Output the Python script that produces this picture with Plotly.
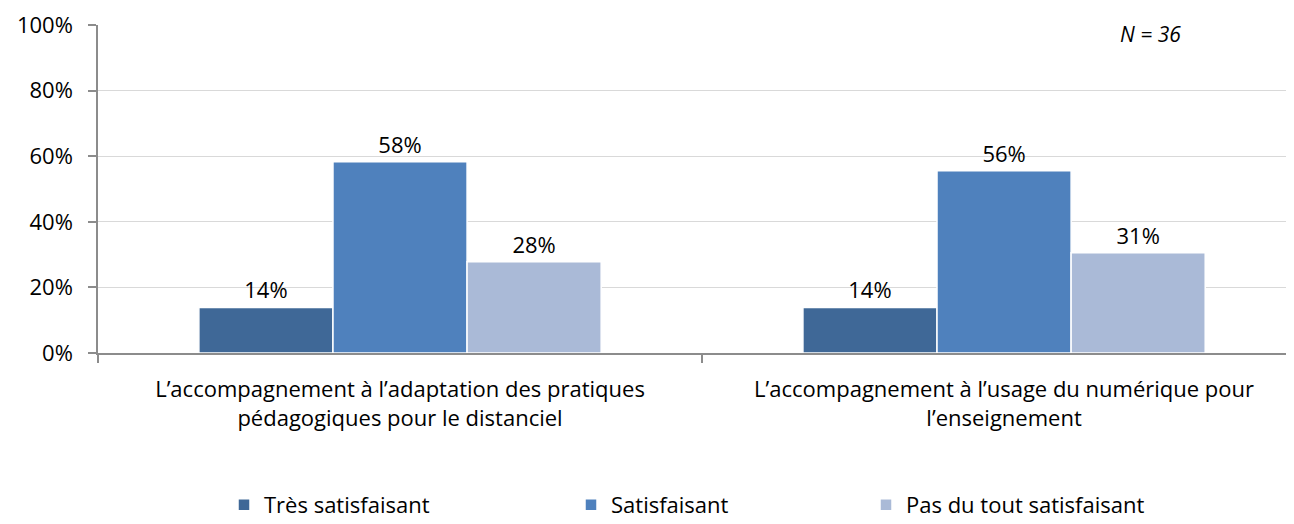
import plotly.graph_objects as go

categories = ["L’accompagnement à l’adaptation des pratiques<br>pédagogiques pour le distanciel",
              "L’accompagnement à l’usage du numérique pour<br>l’enseignement"]
series_names = ["Très satisfaisant", "Satisfaisant", "Pas du tout satisfaisant"]
values = [
    [0.139, 0.139],
    [0.583, 0.556],
    [0.278, 0.306],
]
labels = [["14%", "14%"], ["58%", "56%"], ["28%", "31%"]]
colors = ["#3F6897", "#4F81BD", "#AABAD7"]
yticks = [0, 0.2, 0.4, 0.6, 0.8, 1.0]
ytick_text = ["0%", "20%", "40%", "60%", "80%", "100%"]

FONT = "Open Sans"
FS = 22
PLOT_L, PLOT_W = 98, 1196
legend_ids = ["legend", "legend2", "legend3"]
legend_px = [224, 571, 866]

fig = go.Figure()
for name, vals, labs, col, lid in zip(series_names, values, labels, colors, legend_ids):
    fig.add_trace(go.Bar(
        x=categories, y=vals, name=name, text=labs, textposition="outside",
        textfont=dict(size=FS, color="#000000", family=FONT),
        marker=dict(color=col, line=dict(color="#FFFFFF", width=1.5)),
        cliponaxis=False, legend=lid,
    ))

legend_common = dict(orientation="h", xanchor="left", y=-0.463, yanchor="middle",
                     font=dict(size=FS, family=FONT), itemclick=False,
                     bgcolor="rgba(0,0,0,0)")
fig.update_layout(
    width=1286, height=516,
    margin=dict(l=90, r=0, t=17, b=171, autoexpand=False),
    paper_bgcolor="white", plot_bgcolor="white",
    barmode="group", bargap=0.334, bargroupgap=0,
    font=dict(family=FONT, size=FS, color="#000000"),
    showlegend=True,
    legend=dict(x=(legend_px[0] - PLOT_L) / PLOT_W, **legend_common),
    legend2=dict(x=(legend_px[1] - PLOT_L) / PLOT_W, **legend_common),
    legend3=dict(x=(legend_px[2] - PLOT_L) / PLOT_W, **legend_common),
    xaxis=dict(type="category", range=[-0.5, 1.48],
               tickson="boundaries", ticks="outside", ticklen=8, tickcolor="#8C8C8C",
               tickwidth=1.5,
               showline=True, linecolor="#8C8C8C", linewidth=1.5,
               ticklabelstandoff=16, automargin=False,
               tickfont=dict(size=FS, family=FONT), showgrid=False, zeroline=False),
    yaxis=dict(range=[0, 1.0], tickvals=yticks, ticktext=ytick_text,
               ticks="outside", ticklen=8, tickcolor="#8C8C8C", tickwidth=1.5,
               showline=True, linecolor="#8C8C8C", linewidth=1.5,
               ticklabelstandoff=11,
               showgrid=True, gridcolor="#D9D9D9", gridwidth=1.2, automargin=False,
               zeroline=False, tickfont=dict(size=FS, family=FONT)),
)
fig.add_annotation(xref="x domain", yref="y domain",
                   x=(1150 - PLOT_L) / PLOT_W, y=(353 - 34) / 328,
                   xanchor="center", yanchor="middle",
                   text="<i>N = 36</i>", showarrow=False,
                   font=dict(size=FS - 1, family=FONT))
fig.write_html("out.html")
